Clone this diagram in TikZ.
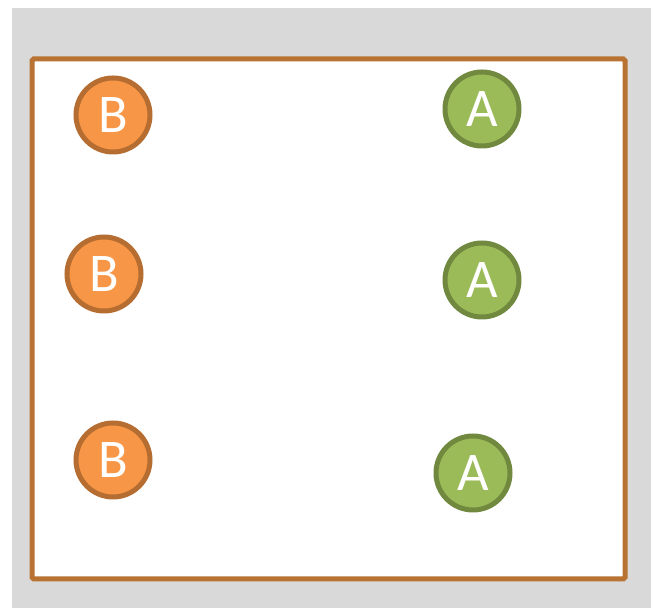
\documentclass[tikz,border=0pt]{standalone}
\usepackage{fontspec}
\setmainfont{Carlito}
\usepackage{tikz}
\definecolor{bggray}{HTML}{D9D9D9}
\definecolor{framebrown}{HTML}{B87333}
\definecolor{ballorange}{HTML}{F79646}
\definecolor{edgeorange}{HTML}{B66D31}
\definecolor{ballgreen}{HTML}{9BBB59}
\definecolor{edgegreen}{HTML}{71893F}
\begin{document}
\begin{tikzpicture}[
  ball/.style={circle, minimum size=1.48cm, inner sep=0pt, line width=0.1cm, text=white, font=\fontsize{31}{31}\selectfont},
  bball/.style={ball, draw=edgeorange, fill=ballorange},
  aball/.style={ball, draw=edgegreen, fill=ballgreen}]
\useasboundingbox (0,0) rectangle (13.02,12.16);
\fill[bggray] (0.24,0) rectangle (13.02,12.0);
\draw[framebrown, line width=0.1cm, rounded corners=1pt, fill=white] (0.64,0.58) rectangle (12.5,10.98);
\node[bball] (b1) at (2.26,9.86) {B};
\node[bball] (b2) at (2.08,6.68) {B};
\node[bball] (b3) at (2.26,2.96) {B};
\node[aball] (a1) at (9.64,9.98) {A};
\node[aball] (a2) at (9.64,6.56) {A};
\node[aball] (a3) at (9.46,2.70) {A};
\end{tikzpicture}
\end{document}
